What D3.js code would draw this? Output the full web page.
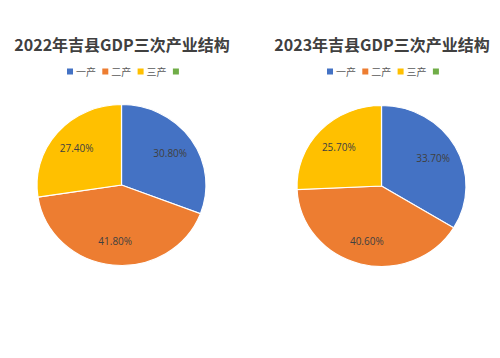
<!DOCTYPE html>
<html>
<head>
<meta charset="utf-8">
<script src="https://cdn.jsdelivr.net/npm/d3@7"></script>
<style>
  body { margin: 0; background: #fff; }
  .title { font-family: "Noto Sans CJK SC", sans-serif; font-weight: bold; font-size: 16px; fill: #404040; }
  .legend text { font-family: "Noto Sans CJK SC", sans-serif; font-size: 10px; fill: #595959; }
  .lbl { font-family: "Open Sans", "DejaVu Sans", sans-serif; font-size: 10px; fill: #404040; }
</style>
</head>
<body>
<svg id="chart" width="500" height="358"></svg>
<script>
// data
var categories = ["一产", "二产", "三产", ""];
var titles = ["2022年吉县GDP三次产业结构", "2023年吉县GDP三次产业结构"];
var values2022 = [30.8, 41.8, 27.4];
var values2023 = [33.7, 40.6, 25.7];
var colors = ["#4472C4", "#ED7D31", "#FFC000", "#70AD47"];

var svg = d3.select("#chart");
var color = d3.scaleOrdinal().domain(categories).range(colors);

var panels = [
  { title: titles[0], values: values2022, cx: 121.5, cy: 185, tx: 122 },
  { title: titles[1], values: values2023, cx: 381.5, cy: 186, tx: 382 }
];

var pie = d3.pie().sort(null).value(function (d) { return d; });
var rx = 84.5, ry = 80.5;
var arc = d3.arc().innerRadius(0).outerRadius(rx);
var labelArc = d3.arc().innerRadius(rx * 0.7).outerRadius(rx * 0.7);

panels.forEach(function (p) {
  svg.append("text").attr("class", "title")
    .attr("x", p.tx).attr("y", 51)
    .attr("text-anchor", "middle")
    .text(p.title);

  // legend
  var lg = svg.append("g").attr("class", "legend")
    .attr("transform", "translate(" + (p.tx - 55) + ",72)");
  var step = 35.3;
  categories.forEach(function (c, i) {
    var g = lg.append("g").attr("transform", "translate(" + (i * step) + ",0)");
    g.append("rect").attr("x", 0).attr("y", -3.5).attr("width", 6).attr("height", 6)
      .attr("fill", color(c));
    g.append("text").attr("x", 9).attr("y", 3.5).text(c);
  });

  var g = svg.append("g")
    .attr("transform", "translate(" + p.cx + "," + p.cy + ") scale(1," + (ry / rx) + ")");
  var arcs = pie(p.values);
  g.selectAll("path").data(arcs).enter().append("path")
    .attr("d", arc)
    .attr("fill", function (d, i) { return colors[i]; })
    .attr("stroke", "#fff")
    .attr("stroke-width", 1.2);

  var lblG = svg.append("g").attr("transform", "translate(" + p.cx + "," + p.cy + ")");
  lblG.selectAll("text").data(arcs).enter().append("text")
    .attr("class", "lbl")
    .attr("text-anchor", "middle")
    .attr("x", function (d) { return labelArc.centroid(d)[0]; })
    .attr("y", function (d) { return labelArc.centroid(d)[1] * ry / rx + 4; })
    .text(function (d) { return d.data.toFixed(2) + "%"; });
});
</script>
</body>
</html>
